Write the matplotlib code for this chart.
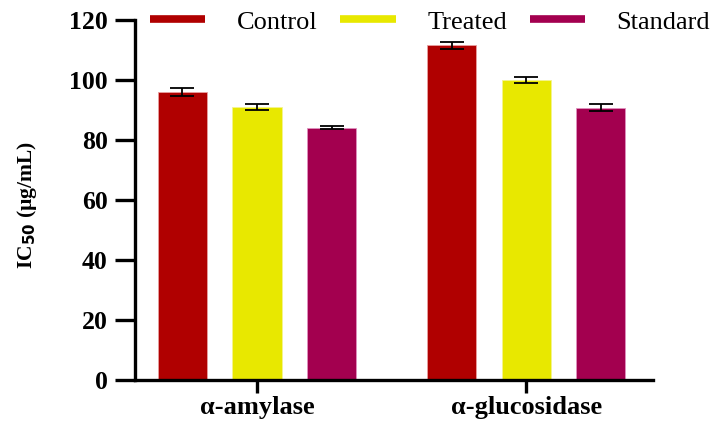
import numpy as np
import matplotlib.pyplot as plt
from matplotlib.lines import Line2D

plt.rcParams['font.family'] = ['Liberation Serif', 'DejaVu Serif']

# IC50 values (µg/mL) for each enzyme assay
enzymes = ["α-amylase", "α-glucosidase"]
groups = ["Control", "Treated", "Standard"]
control = [96.0, 111.5]
treated = [91.0, 100.0]
standard = [84.0, 90.8]
control_err = [1.2, 1.2]
treated_err = [1.0, 1.1]
standard_err = [0.5, 1.1]

colors = ["#B00000", "#E8E800", "#A3004F"]
edge_colors = ["#E8A0A0", "#F4F490", "#E090C0"]

fig = plt.figure(figsize=(7.17, 4.24), dpi=100)
ax = fig.add_axes([0.188, 0.104, 0.723, 0.849])

x = np.arange(len(enzymes))
offset = 0.277
width = 0.183
series = [(control, control_err), (treated, treated_err), (standard, standard_err)]
for i, (vals, errs) in enumerate(series):
    ax.bar(x + (i - 1) * offset, vals, width, color=colors[i],
           edgecolor=edge_colors[i], linewidth=0.6, zorder=2)
    ax.errorbar(x + (i - 1) * offset, vals, yerr=errs, fmt="none",
                ecolor="black", elinewidth=1.3, capsize=8.5, capthick=1.3, zorder=3)

ax.set_xlim(-0.454, 1.472)
ax.set_ylim(0, 120)
ax.set_yticks(np.arange(0, 121, 20))
ax.set_xticks(x)
ax.set_xticklabels(enzymes, fontsize=19, fontweight="bold")
for lab in ax.get_yticklabels():
    lab.set_fontsize(18.5)
    lab.set_fontweight("bold")

for side in ["top", "right"]:
    ax.spines[side].set_visible(False)
for side in ["left", "bottom"]:
    ax.spines[side].set_linewidth(2.4)
ax.tick_params(axis="y", length=14.5, width=2.4, pad=5)
ax.tick_params(axis="x", length=9.5, width=2.4, pad=2)

ax.set_ylabel("IC$_{\\mathbf{50}}$ (µg/mL)", fontsize=15.5, fontweight="bold")
ax.yaxis.set_label_coords(-0.185, 0.486)

handles = [Line2D([], [], color=c, lw=5.5, solid_capstyle="butt") for c in colors]
fig.legend(handles, groups, loc="center left", bbox_to_anchor=(150 / 717, 1 - 22 / 424),
           ncol=3, frameon=False, fontsize=19, handlelength=2.1, handletextpad=1.2,
           columnspacing=0.85, borderpad=0, borderaxespad=0)

fig.savefig("out.png", dpi=100)
